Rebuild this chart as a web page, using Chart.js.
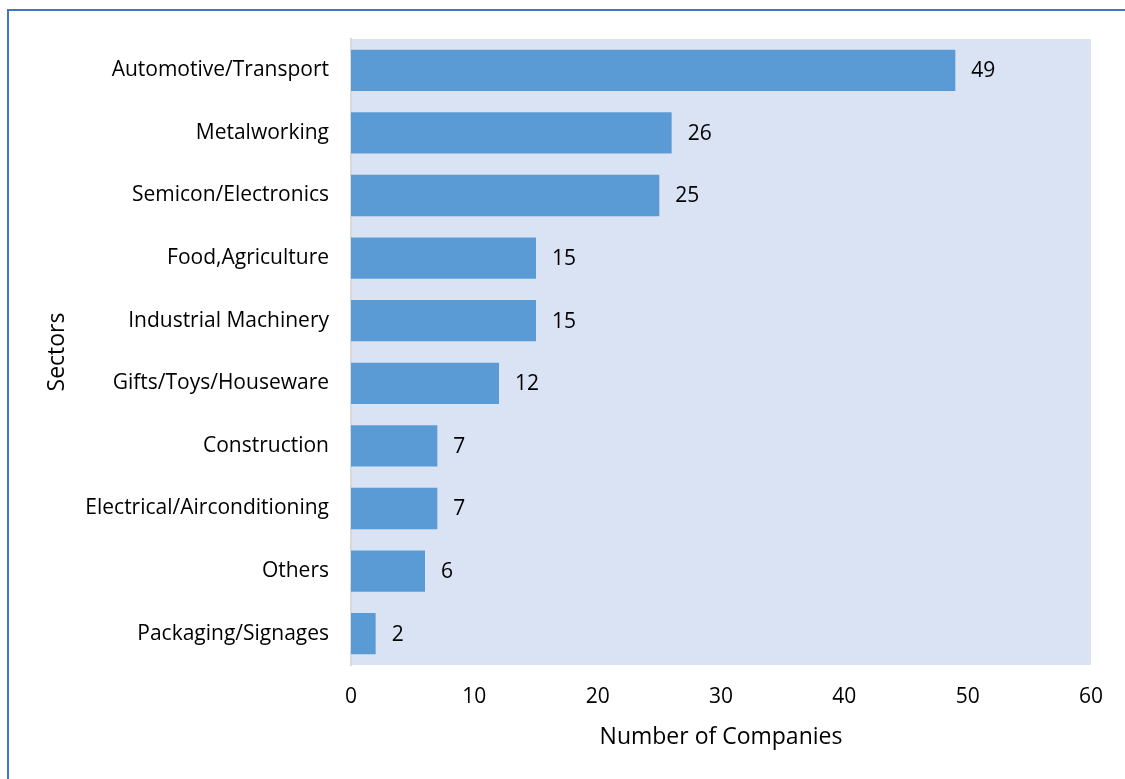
<!DOCTYPE html>
<html>
<head>
<meta charset="utf-8">
<script src="https://cdn.jsdelivr.net/npm/chart.js@4.4.1/dist/chart.umd.min.js"></script>
<style>
  html, body { margin: 0; padding: 0; background: #ffffff; overflow: hidden; }
  #frame { position: absolute; left: 7px; top: 9px; width: 1200px; height: 900px;
           border: 2px solid #4472C4; box-sizing: border-box; }
  #wrap { position: absolute; left: 0; top: 0; width: 1125px; height: 779px; }
</style>
</head>
<body>
<div id="frame"></div>
<div id="wrap"><canvas id="chart" width="1125" height="779"></canvas></div>
<script>
const sectors = [
  "Automotive/Transport", "Metalworking", "Semicon/Electronics", "Food,Agriculture",
  "Industrial Machinery", "Gifts/Toys/Houseware", "Construction",
  "Electrical/Airconditioning", "Others", "Packaging/Signages"
];
const companies = [49, 26, 25, 15, 15, 12, 7, 7, 6, 2];
const xTicks = [0, 10, 20, 30, 40, 50, 60];

const FONT = "'Open Sans', 'Noto Sans', sans-serif";
const PAD = { top: 39, right: 34, bottom: 28, left: 44 };

// Plot background fill behind the bars
const plotBg = {
  id: 'plotBg',
  beforeDraw(chart) {
    const { ctx, chartArea: a } = chart;
    ctx.save();
    ctx.fillStyle = '#DAE3F3';
    ctx.fillRect(a.left, a.top, a.right - a.left, a.bottom - a.top);
    ctx.restore();
  }
};

// Value labels just past the end of each bar
const valueLabels = {
  id: 'valueLabels',
  afterDatasetsDraw(chart) {
    const { ctx } = chart;
    const meta = chart.getDatasetMeta(0);
    ctx.save();
    ctx.fillStyle = '#000000';
    ctx.font = '21px ' + FONT;
    ctx.textAlign = 'left';
    ctx.textBaseline = 'middle';
    meta.data.forEach((bar, i) => {
      ctx.fillText(String(companies[i]), bar.x + 16, bar.y + 1);
    });
    ctx.restore();
  }
};

new Chart(document.getElementById('chart'), {
  type: 'bar',
  data: {
    labels: sectors,
    datasets: [{
      data: companies,
      backgroundColor: '#5B9BD5',
      borderWidth: 0,
      barPercentage: 0.66,
      categoryPercentage: 1.0
    }]
  },
  options: {
    indexAxis: 'y',
    responsive: false,
    animation: false,
    layout: { padding: PAD },
    plugins: { legend: { display: false }, tooltip: { enabled: false } },
    scales: {
      x: {
        min: 0, max: 60,
        afterBuildTicks(axis) { axis.ticks = xTicks.map(v => ({ value: v })); },
        afterFit(scale) { scale.height = 86; },
        grid: { display: false, drawTicks: false },
        border: { display: false },
        ticks: { color: '#000000', font: { family: FONT, size: 21 }, padding: 19 },
        title: { display: true, text: 'Number of Companies', color: '#000000',
                 font: { family: FONT, size: 23 }, padding: { top: 14, bottom: 0 } }
      },
      y: {
        afterFit(scale) { scale.width = 307; },
        grid: { display: false, drawTicks: false },
        border: { display: true, color: '#D9D9D9', width: 2 },
        ticks: { color: '#000000', font: { family: FONT, size: 21 }, padding: 22 },
        title: { display: true, text: 'Sectors', color: '#000000',
                 font: { family: FONT, size: 23 }, padding: { top: 0, bottom: 10 } }
      }
    }
  },
  plugins: [plotBg, valueLabels]
});
</script>
</body>
</html>
